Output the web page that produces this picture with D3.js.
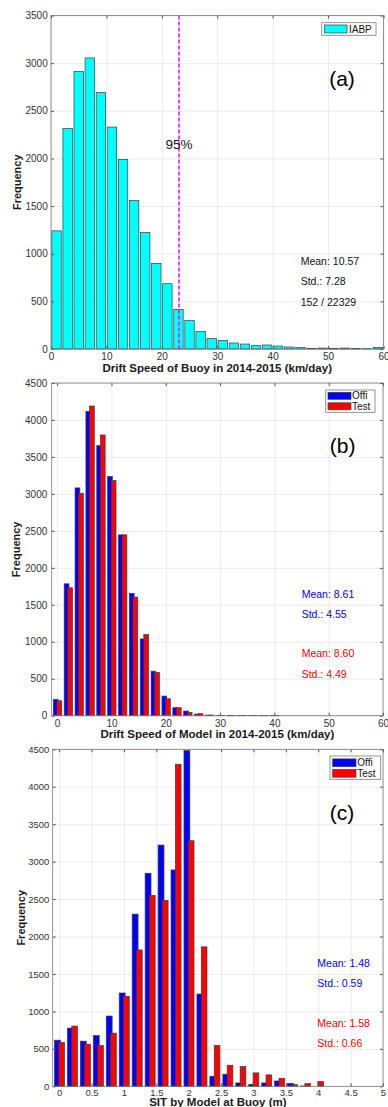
<!DOCTYPE html>
<html>
<head>
<meta charset="utf-8">
<script src="https://cdn.jsdelivr.net/npm/d3@7"></script>
<style>
	body { margin: 0; background: #fff; }
	svg { display: block; }
</style>
</head>
<body>
<svg id="chart" width="388" height="1107"></svg>
<script>
'use strict';

// Panel (a): buoy drift speed histogram (2 km/day bins)
var buoyBins = [1, 3, 5, 7, 9, 11, 13, 15, 17, 19, 21, 23, 25, 27, 29,
	31, 33, 35, 37, 39, 41, 43, 45, 47, 49, 51, 53, 55, 57, 59];
var buoyFreq = [1240, 2315, 2912, 3055, 2692, 2329, 1990, 1559, 1224, 899, 685, 416, 301, 185, 112,
	91, 63, 52, 35, 42, 31, 21, 17, 7, 10, 7, 10, 4, 3, 17];
var buoyP95 = 23.1;
var buoyStats = ['Mean: 10.57', 'Std.: 7.28', '152 / 22329'];

// Panel (b): model drift speed, two runs
var modelBins = [0, 2, 4, 6, 8, 10, 12, 14, 16, 18, 20, 22, 24, 26, 28, 30, 32, 34, 36, 38, 40];
var offiSpeed = [220, 1784, 3081, 4117, 3653, 3234, 2446, 1654, 1038, 602, 265, 108, 63, 22, 9, 5, 3, 2, 2, 1, 1];
var testSpeed = [202, 1730, 3009, 4189, 3797, 3180, 2446, 1604, 1097, 584, 229, 108, 45, 27, 9, 4, 3, 2, 1, 1, 1];
var speedStatsOffi = ['Mean: 8.61', 'Std.: 4.55'];
var speedStatsTest = ['Mean: 8.60', 'Std.: 4.49'];

// Panel (c): sea ice thickness at buoy, two runs (0.2 m bins)
var sitBins = [0, 0.2, 0.4, 0.6, 0.8, 1.0, 1.2, 1.4, 1.6, 1.8, 2.0, 2.2, 2.4, 2.6, 2.8, 3.0, 3.2, 3.4, 3.6, 3.8, 4.0];
var offiSit = [616, 777, 603, 679, 938, 1246, 2299, 2845, 3221, 2889, 4482, 1232, 134, 161, 45, 27, 45, 71, 40, 4, 0];
var testSit = [585, 804, 562, 545, 710, 1201, 1821, 2549, 2482, 4301, 3279, 1862, 545, 281, 263, 179, 152, 107, 22, 36, 63];
var sitStatsOffi = ['Mean: 1.48', 'Std.: 0.59'];
var sitStatsTest = ['Mean: 1.58', 'Std.: 0.66'];

// Tick labels
var speedTicks = [0, 10, 20, 30, 40, 50, 60];
var sitTicks = [0, 0.5, 1, 1.5, 2, 2.5, 3, 3.5, 4, 4.5, 5];
var freqTicks35 = [0, 500, 1000, 1500, 2000, 2500, 3000, 3500];
var freqTicks45 = [0, 500, 1000, 1500, 2000, 2500, 3000, 3500, 4000, 4500];

var FONT = '"Liberation Sans", Arial, Helvetica, sans-serif';
var BLUE = '#0000ff', RED = '#ff0000', CYAN = '#00ffff';
var svg = d3.select('#chart');

function drawPanel(p) {
	var g = svg.append('g');
	var x = d3.scaleLinear().domain(p.xDomain).range([p.left, p.right]);
	var y = d3.scaleLinear().domain([0, p.yMax]).range([p.bottom, p.top]);
	var w = p.right - p.left, h = p.bottom - p.top;

	// grid
	g.append('g')
		.attr('transform', 'translate(0,' + p.bottom + ')')
		.call(d3.axisBottom(x).tickValues(p.xTicks).tickSize(-h).tickFormat(''))
		.call(function (s) {
			s.select('.domain').remove();
			s.selectAll('line').attr('stroke', '#e6e6e6').attr('stroke-width', 0.8);
		});
	g.append('g')
		.attr('transform', 'translate(' + p.left + ',0)')
		.call(d3.axisLeft(y).tickValues(p.yTicks).tickSize(-w).tickFormat(''))
		.call(function (s) {
			s.select('.domain').remove();
			s.selectAll('line').attr('stroke', '#e6e6e6').attr('stroke-width', 0.8);
		});

	// bars
	p.series.forEach(function (sr) {
		g.append('g').selectAll('rect')
			.data(sr.values.map(function (v, i) { return { c: p.bins[i], v: v }; }))
			.enter().append('rect')
			.attr('x', function (d) { return x(d.c + sr.off[0]); })
			.attr('width', function (d) { return x(d.c + sr.off[1]) - x(d.c + sr.off[0]); })
			.attr('y', function (d) { return y(d.v); })
			.attr('height', function (d) { return y(0) - y(d.v); })
			.attr('fill', sr.color)
			.attr('stroke', '#3c3c3c')
			.attr('stroke-width', 0.7);
	});

	// axes with inward ticks
	var tickStyle = function (s) {
		s.select('.domain').remove();
		s.selectAll('line').attr('stroke', '#555');
		s.selectAll('text').attr('fill', '#333').style('font-family', FONT).style('font-size', p.tickFont + 'px');
	};
	g.append('g')
		.attr('transform', 'translate(0,' + p.bottom + ')')
		.call(d3.axisBottom(x).tickValues(p.xTicks).tickSizeInner(-3).tickSizeOuter(0)
			.tickPadding(p.xPad).tickFormat(function (d) { return String(d); }))
		.call(tickStyle);
	g.append('g')
		.attr('transform', 'translate(0,' + p.top + ')')
		.call(d3.axisTop(x).tickValues(p.xTicks).tickSizeInner(-3).tickSizeOuter(0).tickFormat(''))
		.call(tickStyle);
	g.append('g')
		.attr('transform', 'translate(' + p.left + ',0)')
		.call(d3.axisLeft(y).tickValues(p.yTicks).tickSizeInner(-3).tickSizeOuter(0)
			.tickPadding(p.yPad).tickFormat(d3.format('d')))
		.call(tickStyle);
	g.append('g')
		.attr('transform', 'translate(' + p.right + ',0)')
		.call(d3.axisRight(y).tickValues(p.yTicks).tickSizeInner(-3).tickSizeOuter(0).tickFormat(''))
		.call(tickStyle);

	g.append('rect')
		.attr('x', p.left).attr('y', p.top)
		.attr('width', w).attr('height', h)
		.attr('fill', 'none').attr('stroke', '#7a7a7a').attr('stroke-width', 0.8);

	// axis labels
	g.append('text')
		.attr('x', (p.left + p.right) / 2).attr('y', p.xLabelY)
		.attr('text-anchor', 'middle').attr('dy', '0.35em')
		.style('font-family', FONT).style('font-size', '11.5px').style('font-weight', 'bold')
		.attr('fill', '#1a1a1a')
		.text(p.xLabel);
	g.append('text')
		.attr('transform', 'translate(' + p.yLabelX + ',' + ((p.top + p.bottom) / 2) + ') rotate(-90)')
		.attr('text-anchor', 'middle').attr('dy', '0.35em')
		.style('font-family', FONT).style('font-size', '11px').style('font-weight', 'bold')
		.attr('fill', '#1a1a1a')
		.text('Frequency');

	// panel tag
	g.append('text')
		.attr('x', p.tag.x).attr('y', p.tag.y)
		.attr('text-anchor', 'middle').attr('dy', '0.35em')
		.style('font-family', FONT).style('font-size', '21px')
		.text(p.tag.text);

	// stats text
	p.stats.forEach(function (st) {
		g.append('text')
			.attr('x', st.x).attr('y', st.y).attr('dy', '0.35em')
			.style('font-family', FONT).style('font-size', '10.5px')
			.attr('fill', st.color)
			.text(st.text);
	});

	// legend
	var lg = p.legend;
	g.append('rect')
		.attr('x', lg.x0).attr('y', lg.y0)
		.attr('width', lg.x1 - lg.x0).attr('height', lg.y1 - lg.y0)
		.attr('fill', '#fff').attr('stroke', '#7a7a7a').attr('stroke-width', 0.8);
	lg.items.forEach(function (it) {
		g.append('rect')
			.attr('x', lg.sx0).attr('y', it.y - lg.sh / 2)
			.attr('width', lg.sx1 - lg.sx0).attr('height', lg.sh)
			.attr('fill', it.color).attr('stroke', '#3c3c3c').attr('stroke-width', 0.7);
		g.append('text')
			.attr('x', lg.tx).attr('y', it.y).attr('dy', '0.35em')
			.style('font-family', FONT).style('font-size', '10px')
			.attr('fill', '#111')
			.text(it.label);
	});

	return { g: g, x: x, y: y };
}

// ---- panel (a)
var pa = drawPanel({
	left: 51, right: 383.5, top: 15.5, bottom: 349,
	xDomain: [0, 60], yMax: 3500, xTicks: speedTicks, yTicks: freqTicks35,
	tickFont: 10, xPad: 4.2, yPad: 3.3,
	bins: buoyBins,
	series: [{ values: buoyFreq, color: CYAN, off: [-0.85, 0.85] }],
	xLabel: 'Drift Speed of Buoy in 2014-2015 (km/day)', xLabelY: 367.7, yLabelX: 17,
	tag: { text: '(a)', x: 342, y: 79 },
	stats: [
		{ text: buoyStats[0], x: 300.7, y: 261, color: '#111' },
		{ text: buoyStats[1], x: 300.7, y: 281, color: '#111' },
		{ text: buoyStats[2], x: 300.7, y: 302, color: '#111' }
	],
	legend: { x0: 321.7, x1: 376, y0: 22.7, y1: 35.3, sx0: 324.5, sx1: 347, sh: 8, tx: 349,
		items: [{ label: 'IABP', color: CYAN, y: 29 }] }
});

// 95th percentile marker
pa.g.append('line')
	.attr('x1', pa.x(buoyP95)).attr('x2', pa.x(buoyP95))
	.attr('y1', pa.y(3500)).attr('y2', pa.y(0))
	.attr('stroke', '#ff00ff').attr('stroke-width', 1.5)
	.attr('stroke-dasharray', '4,2');
pa.g.append('text')
	.attr('x', pa.x(buoyP95)).attr('y', 144.3)
	.attr('text-anchor', 'middle').attr('dy', '0.35em')
	.style('font-family', FONT).style('font-size', '13.5px')
	.attr('fill', '#111')
	.text('95%');

// ---- panel (b)
drawPanel({
	left: 51.7, right: 383, top: 383, bottom: 715.7,
	xDomain: [-1, 60], yMax: 4500, xTicks: speedTicks, yTicks: freqTicks45,
	tickFont: 10, xPad: 4.5, yPad: 4.4,
	bins: modelBins,
	series: [
		{ values: offiSpeed, color: BLUE, off: [-0.7, 0.18] },
		{ values: testSpeed, color: RED, off: [-0.04, 0.84] }
	],
	xLabel: 'Drift Speed of Model in 2014-2015 (km/day)', xLabelY: 734, yLabelX: 16,
	tag: { text: '(b)', x: 342.7, y: 446 },
	stats: [
		{ text: speedStatsOffi[0], x: 301.7, y: 594, color: BLUE },
		{ text: speedStatsOffi[1], x: 301.7, y: 614, color: BLUE },
		{ text: speedStatsTest[0], x: 301.7, y: 653.3, color: RED },
		{ text: speedStatsTest[1], x: 301.7, y: 674, color: RED }
	],
	legend: { x0: 325.7, x1: 375, y0: 390, y1: 412.3, sx0: 328, sx1: 351, sh: 7, tx: 352,
		items: [{ label: 'Offi', color: BLUE, y: 395.8 }, { label: 'Test', color: RED, y: 406.3 }] }
});

// ---- panel (c)
drawPanel({
	left: 52.7, right: 383, top: 749.3, bottom: 1086.3,
	xDomain: [-0.1, 5], yMax: 4500, xTicks: sitTicks, yTicks: freqTicks45,
	tickFont: 9.5, xPad: 3.2, yPad: 3.4,
	bins: sitBins,
	series: [
		{ values: offiSit, color: BLUE, off: [-0.073, 0.018] },
		{ values: testSit, color: RED, off: [-0.006, 0.082] }
	],
	xLabel: 'SIT by Model at Buoy (m)', xLabelY: 1102, yLabelX: 21,
	tag: { text: '(c)', x: 342, y: 813 },
	stats: [
		{ text: sitStatsOffi[0], x: 317.3, y: 963.3, color: BLUE },
		{ text: sitStatsOffi[1], x: 317.3, y: 983.3, color: BLUE },
		{ text: sitStatsTest[0], x: 317.3, y: 1023.3, color: RED },
		{ text: sitStatsTest[1], x: 317.3, y: 1043.3, color: RED }
	],
	legend: { x0: 330, x1: 380.7, y0: 756, y1: 779.3, sx0: 332.7, sx1: 356, sh: 7.8, tx: 357.3,
		items: [{ label: 'Offi', color: BLUE, y: 762.8 }, { label: 'Test', color: RED, y: 773.3 }] }
});
</script>
</body>
</html>
